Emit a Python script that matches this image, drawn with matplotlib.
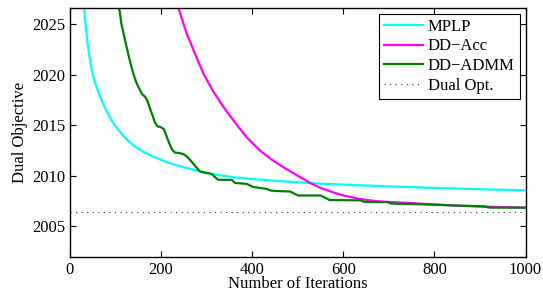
import matplotlib
matplotlib.use("Agg")
import matplotlib.pyplot as plt

plt.rcParams['font.family'] = ['Liberation Serif', 'DejaVu Serif']
plt.rcParams['mathtext.fontset'] = 'stix'

mplp_iter = [31, 34, 38, 42, 46, 50, 56, 62, 70, 78, 86, 95, 105, 117, 130, 145, 160, 180,
             212, 249, 285, 322, 360, 395, 450, 505, 560, 615, 700, 800, 900, 1000]
mplp_val = [2026.6, 2025.0, 2023.3, 2022.0, 2020.9, 2020.0, 2019.1, 2018.3, 2017.4, 2016.6,
            2015.9, 2015.2, 2014.6, 2013.95, 2013.35, 2012.8, 2012.4, 2011.95, 2011.35,
            2010.85, 2010.45, 2010.1, 2009.85, 2009.7, 2009.5, 2009.35, 2009.2, 2009.1,
            2008.95, 2008.8, 2008.67, 2008.56]

acc_iter = [238, 256, 275, 293, 315, 337, 360, 388, 417, 446, 470, 500, 527, 550, 575,
            600, 637, 670, 703, 750, 800, 850, 907, 950, 1000]
acc_val = [2026.6, 2024.1, 2022.0, 2020.1, 2018.3, 2016.8, 2015.4, 2013.8, 2012.5, 2011.5,
           2010.8, 2010.0, 2009.3, 2008.8, 2008.4, 2008.05, 2007.7, 2007.5, 2007.4, 2007.3,
           2007.15, 2007.05, 2006.95, 2006.9, 2006.85]

admm_iter = [108, 113, 120, 126, 133, 139, 145, 150, 158, 165, 170, 176, 181, 186, 192,
             200, 206, 212, 218, 224, 230, 240, 249, 258, 267, 276, 285, 295, 305, 312,
             320, 326, 355, 362, 388, 395, 402, 417, 432, 440, 450, 483, 501, 550, 570,
             637, 648, 695, 706, 750, 798, 850, 907, 922, 1000]
admm_val = [2026.6, 2025.0, 2023.6, 2022.4, 2021.1, 2020.1, 2019.3, 2018.8, 2018.1, 2017.8,
            2017.4, 2016.6, 2016.0, 2015.3, 2014.9, 2014.8, 2014.6, 2013.9, 2013.2, 2012.6,
            2012.3, 2012.25, 2012.15, 2011.85, 2011.4, 2010.9, 2010.45, 2010.3, 2010.25,
            2010.15, 2009.8, 2009.6, 2009.6, 2009.3, 2009.2, 2009.05, 2008.9, 2008.8,
            2008.7, 2008.55, 2008.5, 2008.45, 2008.05, 2008.05, 2007.6, 2007.57, 2007.4,
            2007.4, 2007.25, 2007.2, 2007.15, 2007.05, 2006.98, 2006.85, 2006.85]

dual_opt = 2006.4

labels = ['MPLP', 'DD\u2212Acc', 'DD\u2212ADMM', 'Dual Opt.']

fig = plt.figure(figsize=(5.43, 2.94), dpi=100)
ax = fig.add_axes([0.1289, 0.127, 0.8389, 0.8458])

ax.plot(mplp_iter, mplp_val, color='#00FFFF', lw=1.6, label=labels[0])
ax.plot(acc_iter, acc_val, color='#FF00FF', lw=1.6, label=labels[1])
ax.plot(admm_iter, admm_val, color='#008000', lw=1.6, label=labels[2])
ax.axhline(dual_opt, color='#333333', lw=0.8, linestyle=(0, (1, 4)), label=labels[3])

ax.set_xlim(0, 1000)
ax.set_ylim(2002.0, 2026.6)
ax.set_xticks([0, 200, 400, 600, 800, 1000])
ax.set_yticks([2005, 2010, 2015, 2020, 2025])
ax.tick_params(direction='in', top=True, right=True, labelsize=12, length=4, width=0.8)
for s in ax.spines.values():
    s.set_linewidth(1.0)

ax.set_xlabel('Number of Iterations', fontsize=12, labelpad=-1)
ax.set_ylabel('Dual Objective', fontsize=12, labelpad=3)

leg = ax.legend(loc='upper right', fontsize=12, frameon=True, fancybox=False,
                edgecolor='black', framealpha=1, handlelength=2.3, handletextpad=0.3,
                labelspacing=0.22, borderpad=0.3, borderaxespad=0.35)
leg.get_frame().set_linewidth(0.8)

fig.savefig('out.png', dpi=100)
